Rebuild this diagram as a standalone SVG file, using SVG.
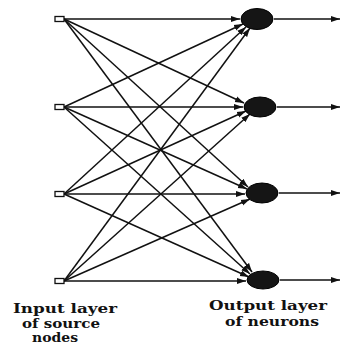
<svg xmlns="http://www.w3.org/2000/svg" width="344" height="345" viewBox="0 0 344 345">
<style>
.c{stroke:#111;stroke-width:1.5;fill:none;marker-end:url(#ah)}
.in{fill:#fff;stroke:#111;stroke-width:1.3}
.out{fill:#151515;stroke:#000;stroke-width:1}
.t{font-family:"DejaVu Serif","Liberation Serif",serif;font-weight:bold;font-size:13px;fill:#111;text-anchor:middle}
</style>
<defs>
<marker id="ah" markerWidth="10" markerHeight="8" refX="9" refY="4" orient="auto" markerUnits="userSpaceOnUse">
<path d="M0,1 L9,4 L0,7 Z" fill="#111"/>
</marker>
</defs>
<rect width="344" height="345" fill="#fff"/>
<g id="connectors">
<line class="c" x1="64" y1="19" x2="240" y2="19"/>
<line class="c" x1="64" y1="19" x2="244" y2="103"/>
<line class="c" x1="64" y1="19" x2="248" y2="187"/>
<line class="c" x1="64" y1="19" x2="252" y2="272"/>
<line class="c" x1="64" y1="107" x2="243" y2="24"/>
<line class="c" x1="64" y1="107" x2="243" y2="107"/>
<line class="c" x1="64" y1="107" x2="247" y2="189"/>
<line class="c" x1="64" y1="107" x2="250" y2="274"/>
<line class="c" x1="64" y1="194" x2="246" y2="27"/>
<line class="c" x1="64" y1="194" x2="246" y2="111"/>
<line class="c" x1="64" y1="194" x2="245" y2="194"/>
<line class="c" x1="64" y1="194" x2="249" y2="277"/>
<line class="c" x1="64" y1="281" x2="250" y2="28"/>
<line class="c" x1="64" y1="281" x2="250" y2="114"/>
<line class="c" x1="64" y1="281" x2="250" y2="199"/>
<line class="c" x1="64" y1="281" x2="246" y2="281"/>
<line class="c" x1="274" y1="19" x2="340" y2="19"/>
<line class="c" x1="277" y1="107" x2="340" y2="107"/>
<line class="c" x1="279" y1="193" x2="340" y2="193"/>
<line class="c" x1="280" y1="280" x2="340" y2="280"/>
</g>
<g id="in1"><rect class="in" x="55" y="16.5" width="9" height="5"/></g>
<g id="in2"><rect class="in" x="55" y="104.5" width="9" height="5"/></g>
<g id="in3"><rect class="in" x="55" y="191.5" width="9" height="5"/></g>
<g id="in4"><rect class="in" x="55" y="278.5" width="9" height="5"/></g>
<g id="out1"><ellipse class="out" cx="257" cy="19" rx="16" ry="10.5"/></g>
<g id="out2"><ellipse class="out" cx="260" cy="107" rx="16" ry="10"/></g>
<g id="out3"><ellipse class="out" cx="262" cy="193" rx="16" ry="10"/></g>
<g id="out4"><ellipse class="out" cx="263" cy="280" rx="16" ry="9"/></g>
<g id="labels">
<text class="t" x="65" y="313" textLength="104" lengthAdjust="spacingAndGlyphs">Input layer</text>
<text class="t" x="61" y="328" textLength="78" lengthAdjust="spacingAndGlyphs">of source</text>
<text class="t" x="55" y="342" textLength="46" lengthAdjust="spacingAndGlyphs">nodes</text>
<text class="t" x="268" y="310" textLength="118" lengthAdjust="spacingAndGlyphs">Output layer</text>
<text class="t" x="272" y="326" textLength="94" lengthAdjust="spacingAndGlyphs">of neurons</text>
</g>
</svg>
